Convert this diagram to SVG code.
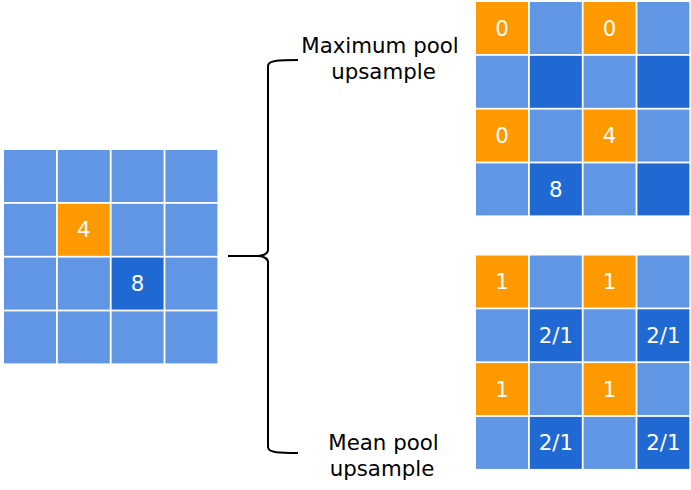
<svg xmlns="http://www.w3.org/2000/svg" width="691" height="490" viewBox="0 0 691 490">
<style>
.l{fill:#6096e4}
.d{fill:#2068d2}
.o{fill:#ff9900}
.n{font-family:"DejaVu Sans",Verdana,sans-serif;font-size:21.33px;fill:#ffffff;text-anchor:middle;dominant-baseline:central}
.lab{font-family:"DejaVu Sans",Verdana,sans-serif;font-size:21.33px;fill:#000000;text-anchor:middle}
.br{fill:none;stroke:#000000;stroke-width:2}
</style>
<rect width="691" height="490" fill="#ffffff"/>
<g id="input-grid">
<rect class="l" x="4" y="150" width="52" height="52"/>
<rect class="l" x="57.8" y="150" width="52" height="52"/>
<rect class="l" x="111.6" y="150" width="52" height="52"/>
<rect class="l" x="165.4" y="150" width="52" height="52"/>
<rect class="l" x="4" y="203.8" width="52" height="52"/>
<rect class="o" x="57.8" y="203.8" width="52" height="52"/>
<rect class="l" x="111.6" y="203.8" width="52" height="52"/>
<rect class="l" x="165.4" y="203.8" width="52" height="52"/>
<rect class="l" x="4" y="257.6" width="52" height="52"/>
<rect class="l" x="57.8" y="257.6" width="52" height="52"/>
<rect class="d" x="111.6" y="257.6" width="52" height="52"/>
<rect class="l" x="165.4" y="257.6" width="52" height="52"/>
<rect class="l" x="4" y="311.4" width="52" height="52"/>
<rect class="l" x="57.8" y="311.4" width="52" height="52"/>
<rect class="l" x="111.6" y="311.4" width="52" height="52"/>
<rect class="l" x="165.4" y="311.4" width="52" height="52"/>
<text class="n" x="83.8" y="229.8">4</text>
<text class="n" x="137.6" y="283.6">8</text>
</g>
<g id="max-pool-grid">
<rect class="o" x="476" y="2" width="52" height="52"/>
<rect class="l" x="529.8" y="2" width="52" height="52"/>
<rect class="o" x="583.6" y="2" width="52" height="52"/>
<rect class="l" x="637.4" y="2" width="52" height="52"/>
<rect class="l" x="476" y="55.8" width="52" height="52"/>
<rect class="d" x="529.8" y="55.8" width="52" height="52"/>
<rect class="l" x="583.6" y="55.8" width="52" height="52"/>
<rect class="d" x="637.4" y="55.8" width="52" height="52"/>
<rect class="o" x="476" y="109.6" width="52" height="52"/>
<rect class="l" x="529.8" y="109.6" width="52" height="52"/>
<rect class="o" x="583.6" y="109.6" width="52" height="52"/>
<rect class="l" x="637.4" y="109.6" width="52" height="52"/>
<rect class="l" x="476" y="163.4" width="52" height="52"/>
<rect class="d" x="529.8" y="163.4" width="52" height="52"/>
<rect class="l" x="583.6" y="163.4" width="52" height="52"/>
<rect class="d" x="637.4" y="163.4" width="52" height="52"/>
<text class="n" x="502" y="28">0</text>
<text class="n" x="609.6" y="28">0</text>
<text class="n" x="502" y="135.6">0</text>
<text class="n" x="609.6" y="135.6">4</text>
<text class="n" x="555.8" y="189.4">8</text>
</g>
<g id="mean-pool-grid">
<rect class="o" x="476" y="255.5" width="52" height="52"/>
<rect class="l" x="529.8" y="255.5" width="52" height="52"/>
<rect class="o" x="583.6" y="255.5" width="52" height="52"/>
<rect class="l" x="637.4" y="255.5" width="52" height="52"/>
<rect class="l" x="476" y="309.3" width="52" height="52"/>
<rect class="d" x="529.8" y="309.3" width="52" height="52"/>
<rect class="l" x="583.6" y="309.3" width="52" height="52"/>
<rect class="d" x="637.4" y="309.3" width="52" height="52"/>
<rect class="o" x="476" y="363.1" width="52" height="52"/>
<rect class="l" x="529.8" y="363.1" width="52" height="52"/>
<rect class="o" x="583.6" y="363.1" width="52" height="52"/>
<rect class="l" x="637.4" y="363.1" width="52" height="52"/>
<rect class="l" x="476" y="416.9" width="52" height="52"/>
<rect class="d" x="529.8" y="416.9" width="52" height="52"/>
<rect class="l" x="583.6" y="416.9" width="52" height="52"/>
<rect class="d" x="637.4" y="416.9" width="52" height="52"/>
<text class="n" x="502" y="281.5">1</text>
<text class="n" x="609.6" y="281.5">1</text>
<text class="n" x="555.8" y="335.3">2/1</text>
<text class="n" x="663.4" y="335.3">2/1</text>
<text class="n" x="502" y="389.1">1</text>
<text class="n" x="609.6" y="389.1">1</text>
<text class="n" x="555.8" y="442.9">2/1</text>
<text class="n" x="663.4" y="442.9">2/1</text>
</g>
<g id="connectors">
<path class="br" d="M228,256 L258,256"/>
<path class="br" d="M298,60 C280,60 268,60 268,66 L268,250 C268,254 262,256 258,256 C262,256 268,258 268,262 L268,447 C268,453 280,453 298,453"/>
</g>
<g id="labels">
<text class="lab" x="380" y="53">Maximum pool</text>
<text class="lab" x="383.5" y="79">upsample</text>
<text class="lab" x="383.5" y="450">Mean pool</text>
<text class="lab" x="382" y="476">upsample</text>
</g>
</svg>
